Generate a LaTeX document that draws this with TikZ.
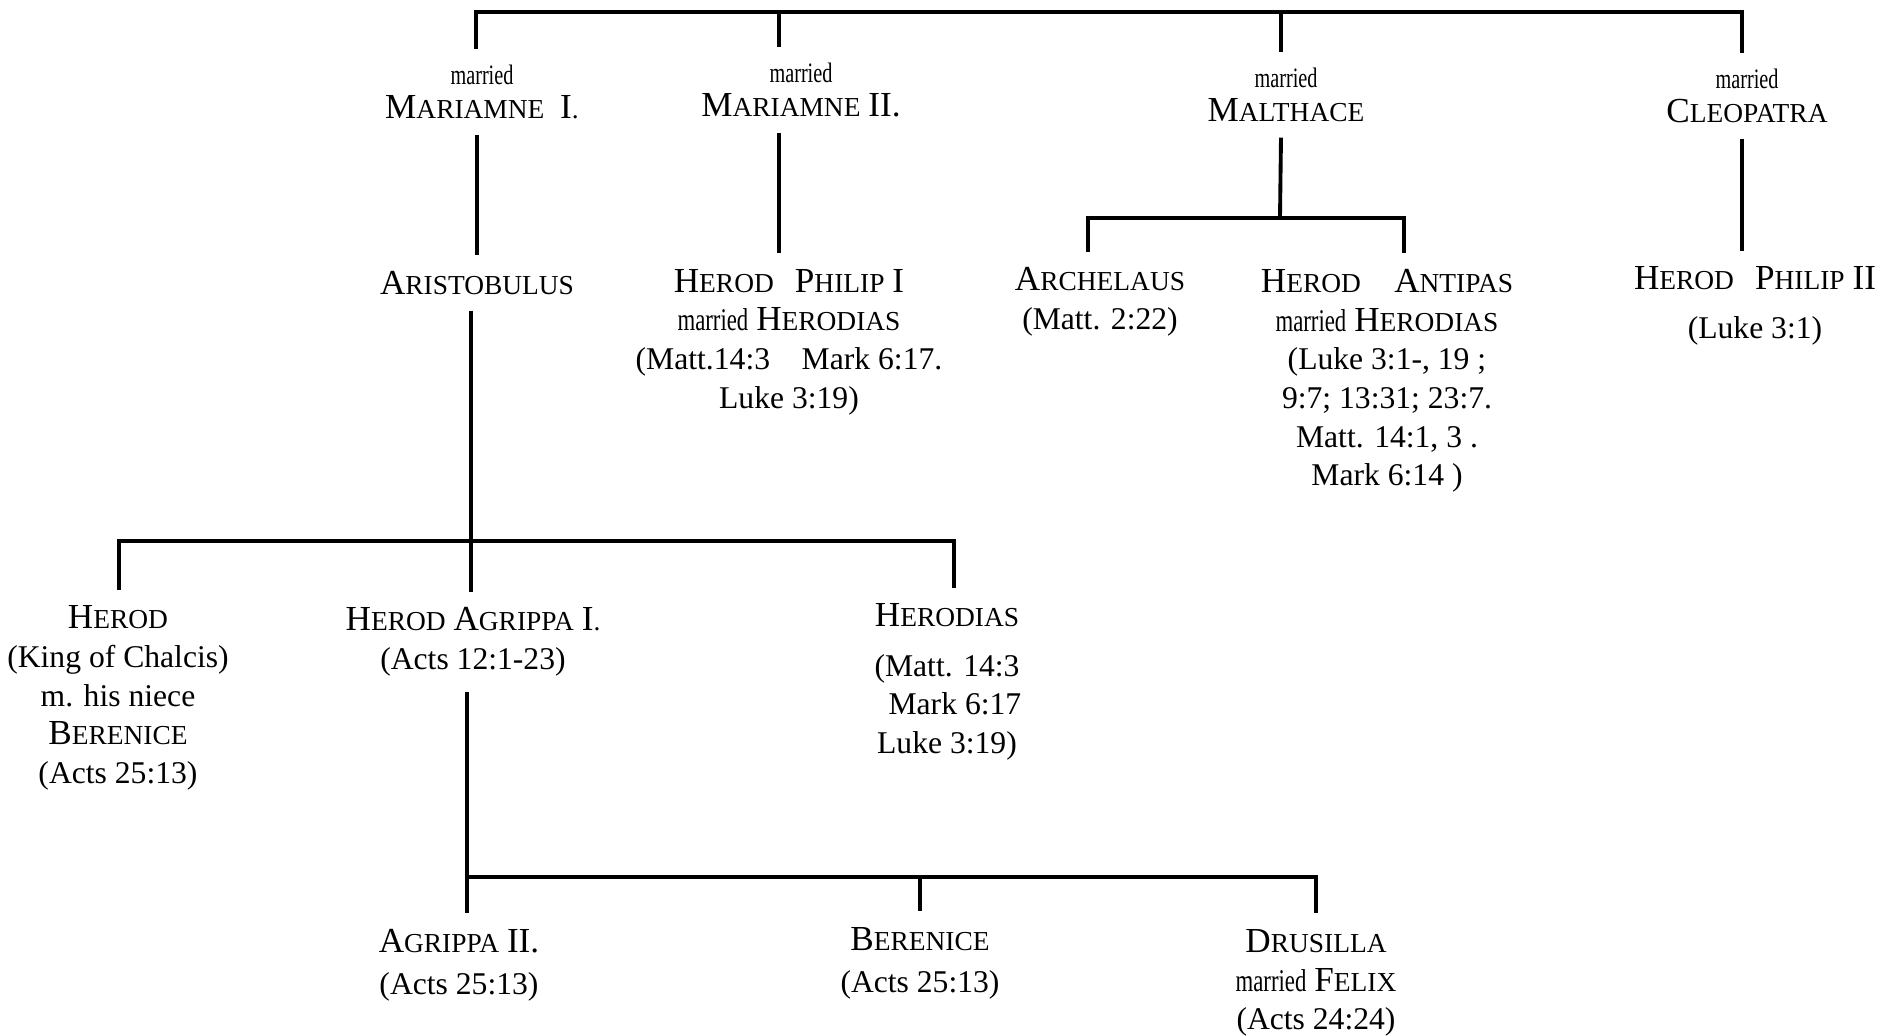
\documentclass[tikz,border=0pt]{standalone}
\usepackage{fontspec}
\setmainfont{Liberation Serif}
\usepackage{graphicx}
\newcommand{\kap}[2]{{\fontsize{10}{11}\selectfont #1}{\fontsize{7.8}{11}\selectfont #2}}
\newcommand{\mrd}{\scalebox{0.72}[1]{married}}
\begin{document}
\begin{tikzpicture}[x=0.1mm,y=-0.1mm,line width=1.1pt,
  person/.style={align=center,inner sep=4pt,font=\fontsize{9}{11}\selectfont}]
  \useasboundingbox (0,0) rectangle (1902,1036);
  \node[person] (m1) at (482,92) {{\fontsize{8}{9}\selectfont\mrd}\\[-1.5pt]\kap{M}{ARIAMNE}\ \ \kap{I}{.}};
  \node[person] (m2) at (801,90) {{\fontsize{8}{9}\selectfont\mrd}\\[-1.5pt]\kap{M}{ARIAMNE} \kap{II.}{}};
  \node[person] (m3) at (1286,95) {{\fontsize{8}{9}\selectfont\mrd}\\[-1.5pt]\kap{M}{ALTHACE}};
  \node[person] (m4) at (1747,96) {{\fontsize{8}{9}\selectfont\mrd}\\[-1.5pt]\kap{C}{LEOPATRA}};
  \node[person] (aris) at (477,283) {\kap{A}{RISTOBULUS}};
  \node[person] (phil1) at (789,342) {\kap{H}{EROD}\hspace{6pt}\kap{P}{HILIP} \kap{I}{}\\\mrd\ \kap{H}{ERODIAS}\\(Matt.14:3\hspace{1em}Mark 6:17.\\Luke 3:19)};
  \node[person] (arch) at (1100,302) {\kap{A}{RCHELAUS}\\(Matt. 2:22)};
  \node[person] (anti) at (1387,381) {\kap{H}{EROD}\hspace{9.5pt}\kap{A}{NTIPAS}\\\mrd\ \kap{H}{ERODIAS}\\(Luke 3:1-, 19 ;\\9:7; 13:31; 23:7.\\Matt. 14:1, 3 .\\Mark 6:14 )};
  \node[person] (phil2) at (1755,306) {\kap{H}{EROD}\hspace{6pt}\kap{P}{HILIP} \kap{II}{}\\[3pt](Luke 3:1)};
  \node[person] (herod) at (118,698) {\kap{H}{EROD}\\(King of Chalcis)\\m. his niece\\\kap{B}{ERENICE}\\(Acts 25:13)};
  \node[person] (agr1) at (473,642) {\kap{H}{EROD} \kap{A}{GRIPPA} \kap{I}{.}\\(Acts 12:1-23)};
  \node[person] (herodias) at (947,682) {\kap{H}{ERODIAS}\\[3pt](Matt. 14:3\\\ \ Mark 6:17\\Luke 3:19)};
  \node[person] (agr2) at (459,965) {\kap{A}{GRIPPA} \kap{II.}{}\\[1pt](Acts 25:13)};
  \node[person] (ber) at (920,963) {\kap{B}{ERENICE}\\[1pt](Acts 25:13)};
  \node[person] (dru) at (1316,983) {\kap{D}{RUSILLA}\\\mrd\ \kap{F}{ELIX}\\(Acts 24:24)};
  \coordinate (top1) at (476,12);
  \coordinate (top2) at (779,12);
  \coordinate (top3) at (1281,12);
  \coordinate (top4) at (1742,12);
  \coordinate (mb) at (1280,218);
  \coordinate (mbl) at (1088,218);
  \coordinate (mbr) at (1404,218);
  \coordinate (ab) at (471,541);
  \coordinate (abl) at (119,541);
  \coordinate (abr) at (954,541);
  \coordinate (gb) at (467,877);
  \coordinate (gbm) at (920,877);
  \coordinate (gbr) at (1316,877);
  \draw (top1 |- m1.north) -- (top1) -- (top4) -- (top4 |- m4.north);
  \draw (top2) -- (top2 |- m2.north);
  \draw (top3) -- (top3 |- m3.north);
  \draw (m1.south -| aris) -- (aris.north);
  \draw (top2 |- m2.south) -- (top2 |- phil1.north);
  \draw (top3 |- m3.south) -- (mb);
  \draw (mbl |- arch.north) -- (mbl) -- (mbr) -- (mbr |- anti.north);
  \draw (top4 |- m4.south) -- (top4 |- phil2.north);
  \draw (ab |- aris.south) -- (ab |- agr1.north);
  \draw (abl |- herod.north) -- (abl) -- (abr) -- (abr |- herodias.north);
  \draw (gb |- agr1.south) -- (gb |- agr2.north);
  \draw (gb) -- (gbr) -- (gbr |- dru.north);
  \draw (gbm) -- (gbm |- ber.north);
\end{tikzpicture}
\end{document}
